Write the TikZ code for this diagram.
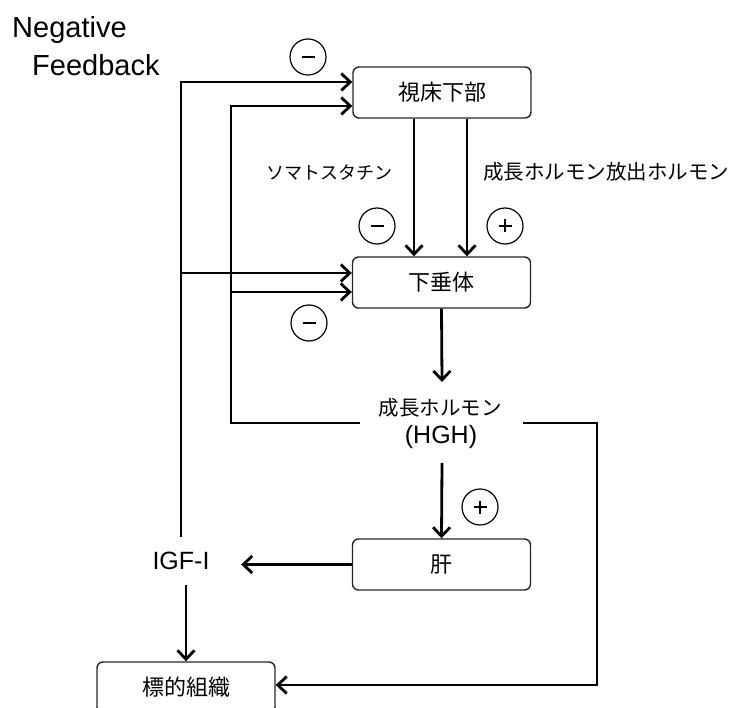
\documentclass[tikz,border=0pt]{standalone}
\usepackage{fontspec}
\setmainfont{Liberation Sans}
\newfontfamily\jp{Noto Sans CJK JP}
\usetikzlibrary{arrows.meta,calc}
\begin{document}
\begin{tikzpicture}[x=1pt,y=-1pt,
  box/.style={draw=black!85, line width=1.4pt, rounded corners=6pt, minimum width=178pt, minimum height=51pt, inner sep=0pt, font=\jp\fontsize{22}{24}\selectfont},
  arr/.style={line width=2.8pt, -{Straight Barb[length=9pt,width=17pt]}},
  sgn/.style={draw, circle, line width=1.2pt, minimum size=36pt, inner sep=0pt},
  sgnminus/.style={sgn, path picture={\draw[line width=1.2pt] ($(path picture bounding box.center)+(-6.5,0)$) -- ++(13,0);}},
  sgnplus/.style={sgn, path picture={\draw[line width=1.2pt] ($(path picture bounding box.center)+(-6.5,0)$) -- ++(13,0) ($(path picture bounding box.center)+(0,-6.5)$) -- ++(0,13);}},
  lbl/.style={font=\jp\fontsize{20.5}{24}\selectfont, inner sep=0pt},
  en/.style={font=\fontsize{25}{29}\selectfont, inner sep=0pt}]
\useasboundingbox (0,0) rectangle (735,708);

% boxes
\node[box] (hyp) at (442,92.5) {視床下部};
\node[box] (pit) at (441.5,282.5) {下垂体};
\node[box] (liver) at (441.5,564.5) {肝};
\node[box] (target) at (186,687.5) {標的組織};

% text nodes
\node[lbl] (hgh) at (440,408) {成長ホルモン};
\node[en] (hghb) at (441,437) {(HGH)};
\node[en, minimum width=120pt, minimum height=48pt] (igf) at (181,561) {IGF-I};
\node[font=\fontsize{29}{34}\selectfont, inner sep=0pt, anchor=base west] (nf1) at (12,38) {Negative};
\node[font=\fontsize{29}{34}\selectfont, inner sep=0pt, anchor=base west] (nf2) at (32,76) {Feedback};
\node[lbl, font=\jp\fontsize{18}{22}\selectfont] (som) at (329,173) {ソマトスタチン};
\node[lbl] (ghrh) at (606,172) {成長ホルモン放出ホルモン};

% signs
\node[sgnminus] (s1) at (308,57) {};
\node[sgnminus] (s2) at (377,226) {};
\node[sgnplus] (s3) at (505,226) {};
\node[sgnminus] (s4) at (309,323) {};
\node[sgnplus] (s5) at (480,507) {};

% coordinates
\coordinate (hA) at ($(hyp.west)+(0,-10.5)$);
\coordinate (hB) at ($(hyp.west)+(0,13.5)$);
\coordinate (pA) at ($(pit.west)+(0,-9.5)$);
\coordinate (pB) at ($(pit.west)+(0,9.5)$);
\coordinate (hL) at (360,423);
\coordinate (hR) at (523,423);
\coordinate (hT) at (442,382);
\coordinate (hBot) at (442,463);
\coordinate (inner) at (231,423);
\coordinate (rc) at (597,685);

% connectors
\draw[arr] (igf.north) |- (hA);
\draw[arr] (igf.north |- pA) -- (pA);
\draw[arr] (hL) -- (inner) -- (inner |- hB) -- (hB);
\draw[arr] (inner |- pB) -- (pB);
\draw[arr] ($(hyp.south)+(-28,0)$) -- ($(pit.north)+(-27.5,0)$);
\draw[arr] ($(hyp.south)+(25,0)$) -- ($(pit.north)+(25.5,0)$);
\draw[arr] (pit.south) -- (hT);
\draw[arr] (hBot) -- (liver.north);
\draw[arr] (liver.west) -- (liver.west -| igf.east);
\draw[arr] (igf.south -| target.north) -- (target.north);
\draw[arr] (hR) -| (rc) -- (rc -| target.east);
\end{tikzpicture}
\end{document}
